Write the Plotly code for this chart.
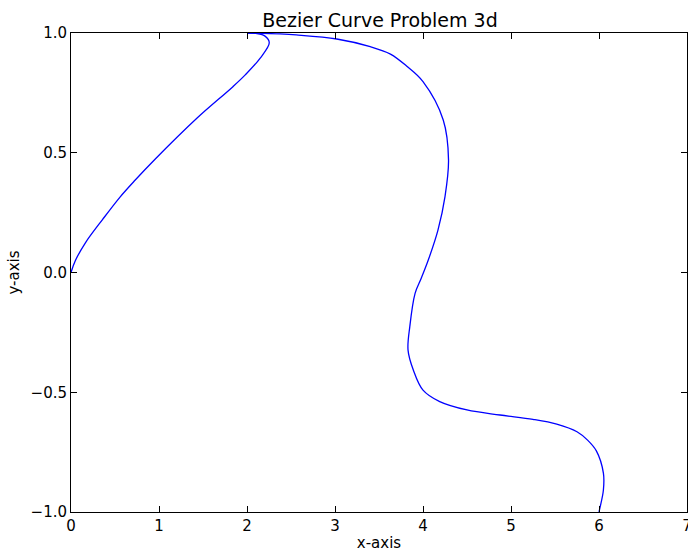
import plotly.graph_objects as go

# Traced points of the curve (first piece: origin up to the cusp at top)
seg1_x = [0.0, 0.05, 0.16, 0.36, 0.557, 0.73, 0.955, 1.43, 1.84, 1.98, 2.148, 2.253, 2.205, 2.1, 2.0]
seg1_y = [0.0, 0.05, 0.122, 0.222, 0.315, 0.386, 0.473, 0.644, 0.776, 0.825, 0.894, 0.959, 0.987, 0.998, 1.0]

# Second piece: from the cusp across the top, down the S to the bottom
seg2_x = [2.0, 2.375, 2.56, 3.02, 3.4, 3.63, 3.82, 4.0, 4.23, 4.29, 4.25, 4.17, 4.06, 3.98, 3.91, 3.85, 3.83, 3.89, 4.0, 4.19, 4.5, 4.875, 5.25, 5.52, 5.75, 5.87, 5.97, 6.05, 6.05, 6.01, 6.0]
seg2_y = [1.0, 0.996, 0.992, 0.975, 0.943, 0.912, 0.86, 0.797, 0.637, 0.47, 0.317, 0.177, 0.052, -0.024, -0.087, -0.226, -0.324, -0.407, -0.491, -0.539, -0.574, -0.595, -0.613, -0.633, -0.665, -0.70, -0.745, -0.838, -0.908, -0.984, -1.0]

x_ticks = [0, 1, 2, 3, 4, 5, 6, 7]
y_ticks = [-1.0, -0.5, 0.0, 0.5, 1.0]

FONT = "DejaVu Sans"

fig = go.Figure()
for xs, ys in [(seg1_x, seg1_y), (seg2_x, seg2_y)]:
    fig.add_trace(go.Scatter(
        x=xs, y=ys, mode="lines",
        line=dict(color="#0000ff", width=1.3, shape="spline", smoothing=1.0),
        showlegend=False, hoverinfo="skip",
    ))

axis_common = dict(
    showgrid=False, zeroline=False, showline=True, linecolor="black", linewidth=1,
    mirror="ticks", ticks="inside", ticklen=6, tickwidth=1, tickcolor="black",
    ticklabeloverflow="allow", automargin=False,
    tickfont=dict(family=FONT, size=15, color="black"),
)

fig.update_layout(
    width=688, height=553,
    margin=dict(l=71, r=1, t=33, b=41),
    paper_bgcolor="white", plot_bgcolor="white",
    font=dict(family=FONT, color="black"),
    title=dict(text="Bezier Curve Problem 3d", x=380 / 688, xanchor="center",
               y=1 - 20 / 553, yanchor="middle", yref="container",
               font=dict(family=FONT, size=19, color="black")),
    xaxis=dict(range=[0, 7], tickvals=x_ticks, ticktext=[str(v) for v in x_ticks],
               title=dict(text="x-axis", font=dict(family=FONT, size=15), standoff=3),
               **axis_common),
    yaxis=dict(range=[-1, 1], tickvals=y_ticks, tickformat=".1f",
               title=dict(text="y-axis", font=dict(family=FONT, size=15), standoff=7),
               **axis_common),
)

fig.write_html("out.html")
